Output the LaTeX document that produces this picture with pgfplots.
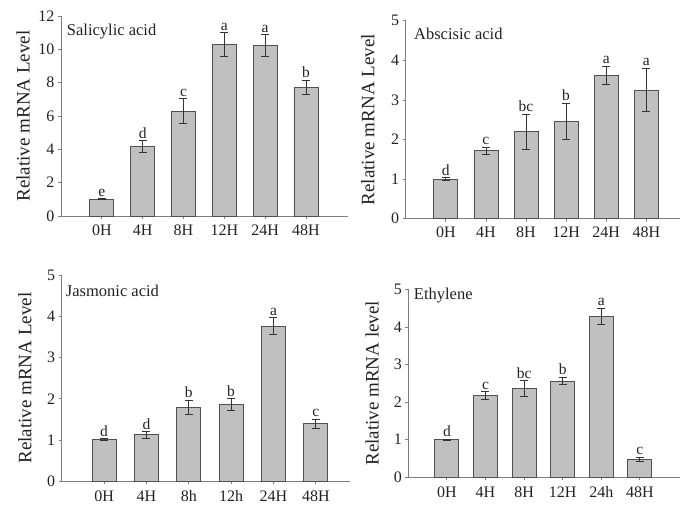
\documentclass[border=0pt]{standalone}
\usepackage{fontspec}
\setmainfont{Liberation Serif}
\usepackage{pgfplots}
\usepackage{pgfplotstable}
\pgfplotsset{compat=1.18}
\definecolor{barfill}{HTML}{C0C0C0}
\definecolor{bardraw}{HTML}{505050}
\definecolor{axgray}{HTML}{808080}
\definecolor{txt}{HTML}{222222}

\pgfplotstableread{
x y err lab
0 1.00 0.03 e
1 4.16 0.35 d
2 6.30 0.73 c
3 10.28 0.72 a
4 10.22 0.67 a
5 7.72 0.44 b
}\tabSA
\pgfplotstableread{
x y err lab
0 1.00 0.04 d
1 1.72 0.09 c
2 2.20 0.44 bc
3 2.46 0.46 b
4 3.62 0.23 a
5 3.25 0.55 a
}\tabABA
\pgfplotstableread{
x y err lab
0 1.01 0.02 d
1 1.13 0.08 d
2 1.80 0.17 b
3 1.86 0.15 b
4 3.76 0.21 a
5 1.40 0.11 c
}\tabJA
\pgfplotstableread{
x y err lab
0 1.00 0.02 d
1 2.18 0.10 c
2 2.36 0.21 bc
3 2.56 0.10 b
4 4.29 0.21 a
5 0.48 0.06 c
}\tabET

\tikzset{ttl/.style={anchor=west, text=txt, font=\fontsize{16.5}{19}\selectfont, inner sep=0pt}}
\pgfplotsset{
  panel/.style={
    scale only axis,
    axis x line*=bottom, axis y line*=left,
    axis line style={draw=axgray, line width=0.8pt, -},
    tick style={draw=axgray, line width=0.8pt},
    tick align=outside, major tick length=3pt,
    xmin=-1, ymin=0,
    xtick={0,...,5},
    clip=false,
    ticklabel style={font=\fontsize{16}{19}\selectfont, text=txt},
    xticklabel style={yshift=-2pt},
    ylabel style={font=\fontsize{19}{22}\selectfont, text=txt, rotate=0},
    /pgf/number format/assume math mode=true,
  },
  bars/.style={
    ybar, bar width=24pt, fill=barfill, draw=bardraw, line width=0.8pt,
    error bars/.cd, y dir=both, y explicit,
    error bar style={draw=black!80, line width=0.8pt},
    error mark options={rotate=90, mark size=4pt, draw=black!80, line width=0.8pt},
  },
  letters/.style={
    draw=none, mark=none, nodes near coords, point meta=explicit symbolic,
    nodes near coords style={anchor=south, inner sep=2pt, text=txt,
      font=\fontsize{15.5}{18}\selectfont},
  },
}

\begin{document}
\begin{tikzpicture}
\path[use as bounding box] (0pt,0pt) rectangle (680pt,-512pt);

% Panel 1: Salicylic acid
\begin{axis}[panel, at={(61pt,-216pt)}, anchor=south west,
  width=287pt, height=200pt, xmax=6.03, ymax=12, ytick={0,2,...,12},
  xticklabels={0H,4H,8H,12H,24H,48H},
  ylabel={Relative mRNA Level},
  ylabel style={at={(axis description cs:-0.132,0.5)}, anchor=center}]
\addplot[bars] table[x=x, y=y, y error=err]{\tabSA};
\addplot[letters] table[x=x, y expr=\thisrow{y}+\thisrow{err}, meta=lab]{\tabSA};
\node[ttl] at (rel axis cs:0.02,0.92) {Salicylic acid};
\end{axis}

% Panel 2: Abscisic acid
\begin{axis}[panel, at={(405.7pt,-218.7pt)}, anchor=south west,
  width=274.3pt, height=198pt, xmax=5.84, ymax=5, ytick={0,1,...,5},
  xticklabels={0H,4H,8H,12H,24H,48H},
  ylabel={Relative mRNA Level},
  ylabel style={at={(axis description cs:-0.138,0.5)}, anchor=center}]
\addplot[bars] table[x=x, y=y, y error=err]{\tabABA};
\addplot[letters] table[x=x, y expr=\thisrow{y}+\thisrow{err}, meta=lab]{\tabABA};
\node[ttl] at (rel axis cs:0.03,0.936) {Abscisic acid};
\end{axis}

% Panel 3: Jasmonic acid
\begin{axis}[panel, at={(61.7pt,-481.3pt)}, anchor=south west,
  width=288pt, height=206.3pt, xmax=5.8, ymax=5, ytick={0,1,...,5},
  xticklabels={0H,4H,8h,12h,24H,48H},
  xticklabel style={yshift=-1pt},
  ylabel={Relative mRNA Level},
  ylabel style={at={(axis description cs:-0.128,0.5)}, anchor=center}]
\addplot[bars] table[x=x, y=y, y error=err]{\tabJA};
\addplot[letters] table[x=x, y expr=\thisrow{y}+\thisrow{err}, meta=lab]{\tabJA};
\node[ttl] at (rel axis cs:0.014,0.924) {Jasmonic acid};
\end{axis}

% Panel 4: Ethylene
\begin{axis}[panel, at={(408.3pt,-477.3pt)}, anchor=south west,
  width=271.7pt, height=188pt, xmax=6.04, ymax=5, ytick={0,1,...,5},
  xticklabels={0H,4H,8H,12H,24h,48H},
  xticklabel style={yshift=-1pt},
  ylabel={Relative mRNA level},
  ylabel style={at={(axis description cs:-0.133,0.5)}, anchor=center}]
\addplot[bars] table[x=x, y=y, y error=err]{\tabET};
\addplot[letters] table[x=x, y expr=\thisrow{y}+\thisrow{err}, meta=lab]{\tabET};
\node[ttl] at (rel axis cs:0.02,0.968) {Ethylene};
\end{axis}
\end{tikzpicture}
\end{document}
